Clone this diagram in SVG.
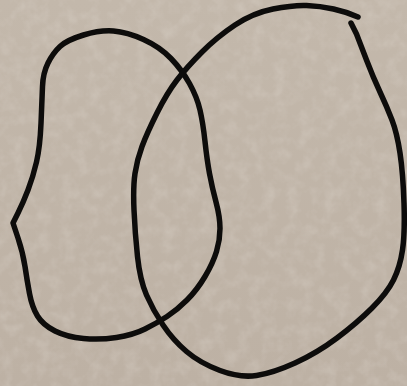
<svg xmlns="http://www.w3.org/2000/svg" width="407" height="386" viewBox="0 0 407 386">
<defs>
<style>
.ink{fill:none;stroke:#0d0c0b;stroke-width:5.5;stroke-linecap:round;stroke-linejoin:round}
</style>
<filter id="grain" x="0" y="0" width="100%" height="100%">
<feTurbulence type="fractalNoise" baseFrequency="0.08" numOctaves="3" seed="4" result="n"/>
<feColorMatrix in="n" type="matrix" values="0 0 0 0 0.83  0 0 0 0 0.79  0 0 0 0 0.74  0 0 0 1.1 -0.45"/>
</filter>
<linearGradient id="bg" x1="0" y1="0" x2="0" y2="1">
<stop offset="0" stop-color="#c3b8ab"/>
<stop offset="1" stop-color="#bdb1a4"/>
</linearGradient>
</defs>
<rect width="407" height="386" fill="url(#bg)"/>
<rect width="407" height="386" filter="url(#grain)" opacity="0.4"/>
<g id="left-shape">
<path class="ink" d="M83.5,35 Q100,30 113.5,31 Q127,32 143.5,39.5 Q160,47 171,58.5 Q182,70 189.5,83.5 Q197,97 200,110 Q203,123 205,141.5 Q207,160 209.5,173.5 Q212,187 216,202 Q220,217 220,228.5 Q220,240 216.5,251.5 Q213,263 205,276.5 Q197,290 187,300 Q177,310 167,316.5 Q157,323 145,329 Q133,335 116.5,337.5 Q100,340 83.5,338.5 Q67,337 55,331 Q43,325 37.5,316 Q32,307 29.5,293.5 Q27,280 25,266.5 Q23,253 18,238 L13,223 L18,213 Q23,203 28,190 Q33,177 36.5,162 Q40,147 41,123.5 Q42,100 42.5,86.5 Q43,73 48,63 Q53,53 60,46.5 Q67,40 83.5,35 Z"/>
</g>
<g id="right-shape">
<path class="ink" d="M358,17 Q347,12 333.5,9 Q320,6 306.5,5.5 Q293,5 273,9 Q253,13 235,25 Q217,37 202,52 Q187,67 177,80 Q167,93 157,113 Q147,133 142,146.5 Q137,160 135,173.5 Q133,187 134,210 Q135,233 137.5,256.5 Q140,280 146.5,295 Q153,310 163,325 Q173,340 186.5,351.5 Q200,363 220,370.5 Q240,378 256.5,375.5 Q273,373 295,363 Q317,353 337,338 Q357,323 372,308 Q387,293 393.5,280 Q400,267 402.5,250 Q405,233 404,203 Q403,173 400,153 Q397,133 392,120 Q387,107 380,92 Q373,77 366.5,60 Q360,43 356.5,34 Q353,27 351,23"/>
</g>
</svg>
